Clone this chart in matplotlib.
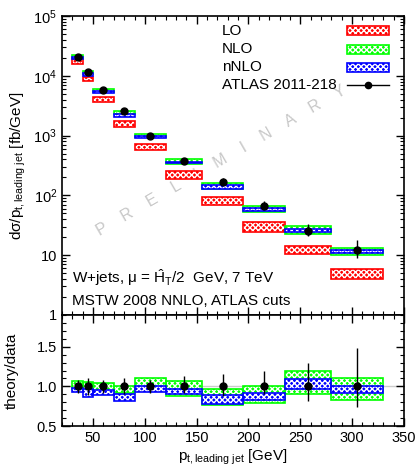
import numpy as np
import matplotlib
matplotlib.use("Agg")
import matplotlib.pyplot as plt
from matplotlib.patches import Rectangle
from matplotlib.ticker import FixedLocator, MultipleLocator, LogLocator, FuncFormatter, NullFormatter

plt.rcParams['font.family'] = ['Liberation Sans', 'DejaVu Sans']
plt.rcParams['mathtext.fontset'] = 'custom'
plt.rcParams['mathtext.rm'] = 'Liberation Sans'
plt.rcParams['mathtext.it'] = 'Liberation Sans:italic'
plt.rcParams['hatch.linewidth'] = 1.0

# leading jet pT bins [GeV]
edges = [30, 40, 50, 70, 90, 120, 155, 195, 235, 280, 330]

# ATLAS 2011-218 data [fb/GeV] and relative errors
data = [2.09e4, 1.15e4, 5.8e3, 2.55e3, 975, 380, 167, 67, 25.4, 12.1]
err_up = [0.08, 0.10, 0.08, 0.10, 0.08, 0.13, 0.15, 0.19, 0.30, 0.48]
err_dn = [0.08, 0.11, 0.08, 0.10, 0.08, 0.09, 0.12, 0.10, 0.18, 0.26]

# LO band [fb/GeV]
lo_lo = [1.59e4, 8.3e3, 3.64e3, 1.41e3, 575, 190, 68, 24.7, 10.4, 4.05]
lo_hi = [1.92e4, 9.7e3, 4.47e3, 1.78e3, 724, 256, 93, 35.9, 14.4, 5.9]

# NLO and nNLO bands as theory/data
nlo_lo = [0.97, 0.95, 0.94, 0.91, 0.99, 0.88, 0.76, 0.79, 0.90, 0.825]
nlo_hi = [1.07, 1.055, 1.04, 1.005, 1.10, 1.07, 0.97, 1.005, 1.19, 1.11]
nnlo_lo = [0.93, 0.865, 0.89, 0.815, 0.93, 0.90, 0.775, 0.825, 0.97, 0.91]
nnlo_hi = [0.98, 0.97, 0.95, 0.90, 1.01, 0.97, 0.89, 0.92, 1.096, 1.005]

labels = ['LO', 'NLO', 'nNLO', 'ATLAS 2011-218']

edges = np.array(edges, dtype=float)
left = edges[:-1]
width = np.diff(edges)
centers = left + width / 2
data = np.array(data)
eu = np.array(err_up)
ed = np.array(err_dn)

RED, GREEN, BLUE = '#ff0000', '#00ff00', '#0000ff'
HATCH = 'xxxxxx'


def band(ax, lo, hi, color):
    lo = np.asarray(lo)
    hi = np.asarray(hi)
    ax.bar(left, hi - lo, bottom=lo, width=width, align='edge', color=color,
           hatch=HATCH, edgecolor='white', linewidth=0)
    ax.bar(left, hi - lo, bottom=lo, width=width, align='edge', fill=False,
           edgecolor=color, linewidth=1.2)


fig = plt.figure(figsize=(4.18, 4.70), dpi=100)
ax = fig.add_axes([0.1483, 0.3298, 0.818, 0.636])
axr = fig.add_axes([0.1483, 0.0936, 0.818, 0.2362])

# upper panel
band(ax, lo_lo, lo_hi, RED)
band(ax, np.array(nlo_lo) * data, np.array(nlo_hi) * data, GREEN)
band(ax, np.array(nnlo_lo) * data, np.array(nnlo_hi) * data, BLUE)
ax.errorbar(centers, data, yerr=[data * ed, data * eu], fmt='o', color='black',
            ms=5, lw=1, capsize=0, zorder=5)

ax.set_yscale('log')
ax.set_xlim(20, 350)
ax.set_ylim(1, 1e5)
ax.yaxis.set_major_locator(LogLocator(base=10, numticks=10))
ax.yaxis.set_minor_locator(LogLocator(base=10, subs=np.arange(2, 10), numticks=50))
ax.yaxis.set_major_formatter(FuncFormatter(
    lambda v, p: '1' if v == 1 else ('10' if v == 10 else r'$10^{%d}$' % round(np.log10(v)))))
ax.yaxis.set_minor_formatter(NullFormatter())
ax.xaxis.set_major_locator(MultipleLocator(50))
ax.xaxis.set_minor_locator(MultipleLocator(10))
ax.tick_params(labelbottom=False)
ax.set_ylabel(r'dσ/$\mathrm{p}_{\mathrm{t,leading\ jet}}$ [fb/GeV]', fontsize=11)
ax.yaxis.set_label_coords(-0.10, 0.5)

ax.text(0.029, 0.125, r'W+jets, μ = $\hat{\mathrm{H}}_{\mathrm{T}}$/2  GeV, 7 TeV',
        transform=ax.transAxes, fontsize=11, va='center')
ax.text(0.029, 0.047, 'MSTW 2008 NNLO, ATLAS cuts', transform=ax.transAxes,
        fontsize=11, va='center')
ax.text(0.465, 0.515, '    '.join('PRELIMINARY'), transform=ax.transAxes,
        fontsize=11.5, color='#c8c8c8', rotation=30, ha='center', va='center', zorder=0)

# legend, drawn by hand: labels left, keys right
rows = [0.951, 0.889, 0.828, 0.768]
kx0, kx1, kh = 0.835, 0.955, 0.030
for lab, y, c in zip(labels, rows, [RED, GREEN, BLUE, None]):
    ax.text(0.467, y, lab, transform=ax.transAxes, fontsize=11, va='center')
    if c is not None:
        ax.add_patch(Rectangle((kx0, y - kh / 2), kx1 - kx0, kh, transform=ax.transAxes,
                               facecolor=c, edgecolor='white', hatch=HATCH, linewidth=0))
        ax.add_patch(Rectangle((kx0, y - kh / 2), kx1 - kx0, kh, transform=ax.transAxes,
                               fill=False, edgecolor=c, linewidth=1.2))
    else:
        ax.plot([kx0, kx1], [y, y], color='black', lw=1, transform=ax.transAxes)
        ax.plot([(kx0 + kx1) / 2], [y], 'o', color='black', ms=4.5, transform=ax.transAxes)

# ratio panel
axr.axhline(1.0, color='#cccccc', lw=1, zorder=0)
band(axr, nlo_lo, nlo_hi, GREEN)
band(axr, nnlo_lo, nnlo_hi, BLUE)
axr.errorbar(centers, np.ones_like(centers), yerr=[ed, eu], fmt='o', color='black',
             ms=5, lw=1, capsize=0, zorder=5)
axr.set_xlim(20, 350)
axr.set_ylim(0.5, 1.9)
axr.yaxis.set_major_locator(FixedLocator([0.5, 1.0, 1.5]))
axr.yaxis.set_major_formatter(FuncFormatter(lambda v, p: '%.1f' % v))
axr.yaxis.set_minor_locator(MultipleLocator(0.1))
axr.xaxis.set_major_locator(MultipleLocator(50))
axr.xaxis.set_minor_locator(MultipleLocator(10))
axr.set_ylabel('theory/data', fontsize=11)
axr.yaxis.set_label_coords(-0.126, 0.5)
axr.set_xlabel(r'$\mathrm{p}_{\mathrm{t,leading\ jet}}$ [GeV]', fontsize=11, labelpad=2)

for a in (ax, axr):
    a.tick_params(which='both', direction='in', top=True, right=True, labelsize=10.5)
    a.tick_params(which='major', length=6, width=1)
    a.tick_params(which='minor', length=3, width=0.8)
    for s in a.spines.values():
        s.set_linewidth(1.2)

fig.savefig('out.png', dpi=100)
